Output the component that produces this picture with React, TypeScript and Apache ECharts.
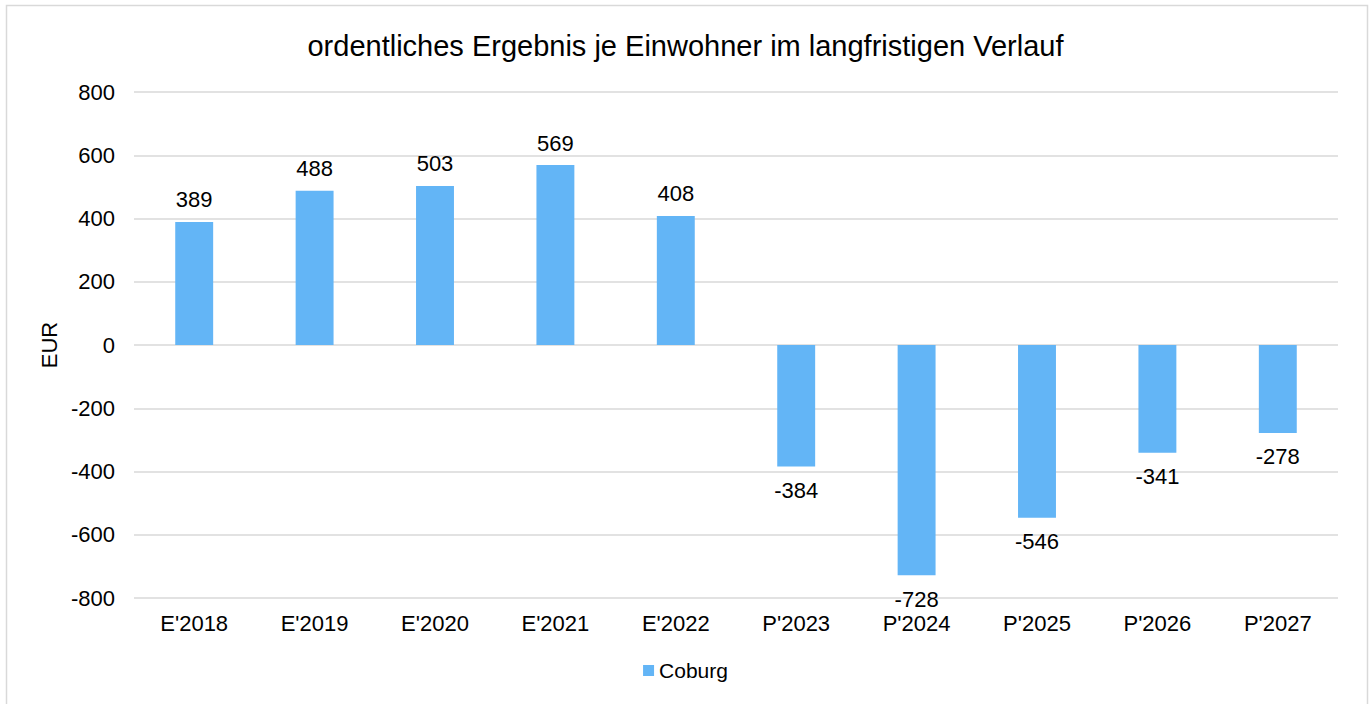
import React, { useEffect, useRef } from "react";
import * as echarts from "echarts";

const categories = ["E'2018", "E'2019", "E'2020", "E'2021", "E'2022", "P'2023", "P'2024", "P'2025", "P'2026", "P'2027"];
const values = [389, 488, 503, 569, 408, -384, -728, -546, -341, -278];
const seriesName = "Coburg";
const titleText = "ordentliches Ergebnis je Einwohner im langfristigen Verlauf";
const yAxisName = "EUR";

const FONT = "'Liberation Sans', Arial, sans-serif";

export default function App() {
  const ref = useRef<HTMLDivElement>(null);
  useEffect(() => {
    if (!ref.current) return;
    const chart = echarts.init(ref.current, undefined, { renderer: "svg" });
    chart.setOption({
      animation: false,
      backgroundColor: "#ffffff",
      textStyle: { fontFamily: FONT },
      title: {
        text: titleText,
        left: "center",
        top: 26,
        textStyle: { fontFamily: FONT, fontSize: 29, fontWeight: "normal", color: "#000" },
      },
      graphic: [
        {
          type: "rect",
          shape: { x: 6.5, y: 5.5, width: 1361, height: 720 },
          style: { fill: "none", stroke: "#d9d9d9", lineWidth: 1.5 },
          silent: true,
        },
      ],
      legend: {
        bottom: 18,
        left: "center",
        itemWidth: 11,
        itemHeight: 11,
        icon: "rect",
        itemGap: 10,
        textStyle: { fontFamily: FONT, fontSize: 21, color: "#000" },
        data: [seriesName],
      },
      grid: { left: 134, right: 33, top: 92, bottom: 106, containLabel: false },
      xAxis: {
        type: "category",
        data: categories,
        axisLine: { show: false },
        axisTick: { show: false },
        axisLabel: { fontFamily: FONT, fontSize: 22, color: "#000", margin: 14 },
      },
      yAxis: {
        type: "value",
        min: -800,
        max: 800,
        interval: 200,
        name: yAxisName,
        nameLocation: "middle",
        nameGap: 71,
        nameRotate: 90,
        nameTextStyle: { fontFamily: FONT, fontSize: 22, color: "#000" },
        axisLabel: { fontFamily: FONT, fontSize: 22, color: "#000", margin: 19 },
        splitLine: { lineStyle: { color: "#d9d9d9", width: 1.5 } },
        axisLine: { show: false },
        axisTick: { show: false },
      },
      series: [
        {
          name: seriesName,
          type: "bar",
          barWidth: "31.5%",
          itemStyle: { color: "#63b5f6" },
          data: values.map((v) => ({
            value: v,
            label: {
              show: true,
              position: v >= 0 ? "top" : "bottom",
              distance: v >= 0 ? 11 : 13,
              fontFamily: FONT,
              fontSize: 22,
              color: "#000",
            },
          })),
        },
      ],
    });
    return () => chart.dispose();
  }, []);
  return (
    <div
      ref={ref}
      style={{ position: "absolute", left: 0, top: 0, width: 1371, height: 704 }}
    />
  );
}
